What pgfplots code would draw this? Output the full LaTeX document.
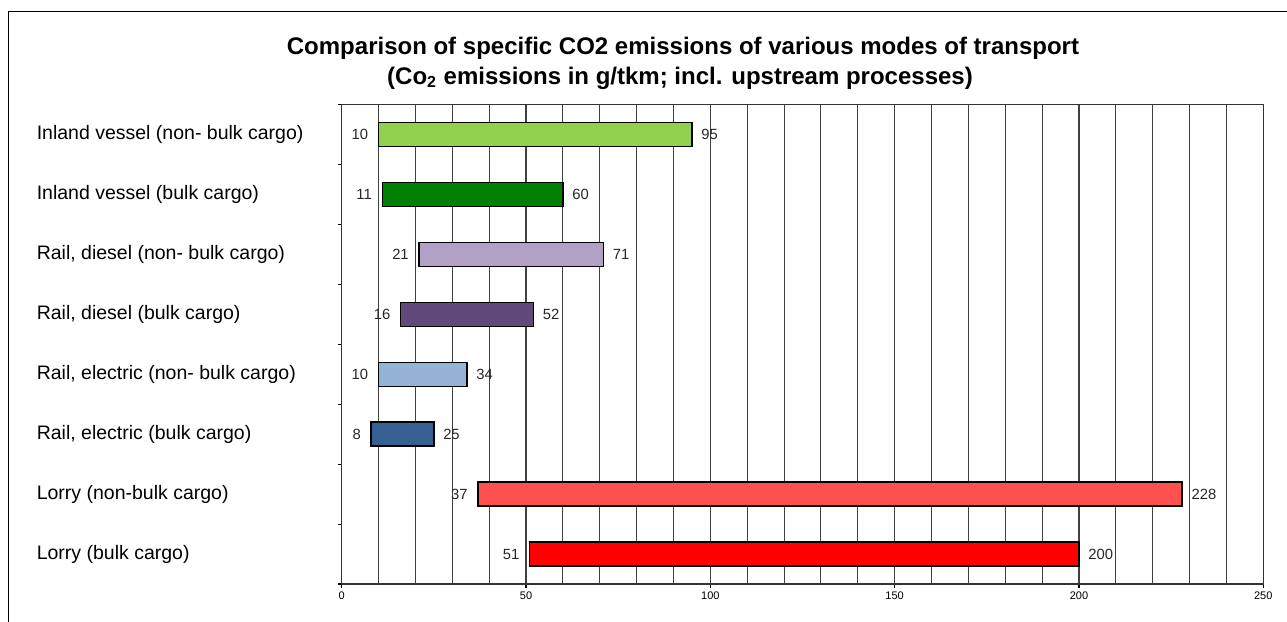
\documentclass[border=0pt]{standalone}
\usepackage{pgfplots}
\usepackage{pgfplotstable}
\pgfplotsset{compat=1.18}
\usepackage{fontspec}
\setmainfont{Liberation Sans}

% bar colours, one per mode of transport
\definecolor{ivnb}{HTML}{92D050}
\definecolor{ivb}{HTML}{008000}
\definecolor{rdnb}{HTML}{B2A1C7}
\definecolor{rdb}{HTML}{604A7B}
\definecolor{renb}{HTML}{95B3D7}
\definecolor{reb}{HTML}{366092}
\definecolor{lnb}{HTML}{FF5050}
\definecolor{lb}{HTML}{FF0000}

% range of specific CO2 emissions (g/tkm), lowest and highest value
\pgfplotstableread{
row lo  hi
0   10  95
1   11  60
2   21  71
3   16  52
4   10  34
5   8   25
6   37  228
7   51  200
}\modes

\pgfplotsset{
  seg/.style={xbar, bar shift=0pt, bar width=12pt, stack plots=x,
    draw=black, line width=0.7pt},
}

\begin{document}
\begin{tikzpicture}
\path[use as bounding box] (0,0) rectangle (643.5pt,-311pt);
% outer chart frame
\draw[line width=0.65pt] (4.15pt,-330pt) -- (4.15pt,-5.85pt) -- (660pt,-5.85pt);
% two-line title
\node[font=\bfseries\fontsize{12}{14}\selectfont, anchor=base]
  at (341.5pt,-27pt)
  {Comparison of specific CO2 emissions of various modes of transport};
\node[font=\bfseries\fontsize{12}{14}\selectfont, anchor=base]
  at (340pt,-42pt)
  {(Co\textsubscript{2} emissions in g/tkm; incl. upstream processes)};
\begin{axis}[
  at={(170.85pt,-52.25pt)}, anchor=north west,
  scale only axis, width=460.8pt, height=239.75pt,
  xmin=0, xmax=250, ymin=-0.5, ymax=7.5, y dir=reverse,
  /pgf/number format/assume math mode=true,
  xtick={0,50,...,250}, minor x tick num=4,
  xmajorgrids, xminorgrids,
  grid style={black!75, line width=0.55pt},
  minor grid style={black!75, line width=0.55pt},
  minor tick length=0pt, major tick length=1.8pt,
  tick align=outside, xtick pos=bottom, ytick pos=left,
  tick style={black, line width=0.55pt},
  axis line style={black!80, line width=0.6pt},
  ytick={-0.5,0.5,...,7.5},
  y tick label as interval,
  yticklabels={Inland vessel (non- bulk cargo),
               Inland vessel (bulk cargo),
               {Rail, diesel (non- bulk cargo)},
               {Rail, diesel (bulk cargo)},
               {Rail, electric (non- bulk cargo)},
               {Rail, electric (bulk cargo)},
               Lorry (non-bulk cargo),
               Lorry (bulk cargo)},
  yticklabel style={anchor=west, inner sep=0pt, xshift=-150.85pt,
    font=\fontsize{9.75}{11}\selectfont},
  xticklabel style={inner sep=0pt, yshift=-2pt,
    font=\fontsize{5.5}{6}\selectfont},
  every node near coord/.append style={font=\fontsize{7.4}{8}\selectfont,
    inner sep=0pt, text=black!85},
]
% invisible base from 0 to the lowest value
\addplot[seg, draw=none, fill=none] table[x=lo, y=row] {\modes};
% one visible segment per mode, from the lowest to the highest value
\addplot[seg, fill=ivnb] table[x expr={\coordindex==0 ? \thisrow{hi}-\thisrow{lo} : 0}, y=row] {\modes};
\addplot[seg, fill=ivb]  table[x expr={\coordindex==1 ? \thisrow{hi}-\thisrow{lo} : 0}, y=row] {\modes};
\addplot[seg, fill=rdnb] table[x expr={\coordindex==2 ? \thisrow{hi}-\thisrow{lo} : 0}, y=row] {\modes};
\addplot[seg, fill=rdb]  table[x expr={\coordindex==3 ? \thisrow{hi}-\thisrow{lo} : 0}, y=row] {\modes};
\addplot[seg, fill=renb] table[x expr={\coordindex==4 ? \thisrow{hi}-\thisrow{lo} : 0}, y=row] {\modes};
\addplot[seg, fill=reb]  table[x expr={\coordindex==5 ? \thisrow{hi}-\thisrow{lo} : 0}, y=row] {\modes};
\addplot[seg, fill=lnb]  table[x expr={\coordindex==6 ? \thisrow{hi}-\thisrow{lo} : 0}, y=row] {\modes};
\addplot[seg, fill=lb]   table[x expr={\coordindex==7 ? \thisrow{hi}-\thisrow{lo} : 0}, y=row] {\modes};
% value labels at both ends of each bar
\addplot[draw=none, nodes near coords, point meta=explicit,
  nodes near coords style={anchor=east, xshift=-5pt}]
  table[x=lo, y=row, meta=lo] {\modes};
\addplot[draw=none, nodes near coords, point meta=explicit,
  nodes near coords style={anchor=west, xshift=4.5pt}]
  table[x=hi, y=row, meta=hi] {\modes};
\end{axis}
\end{tikzpicture}
\end{document}
